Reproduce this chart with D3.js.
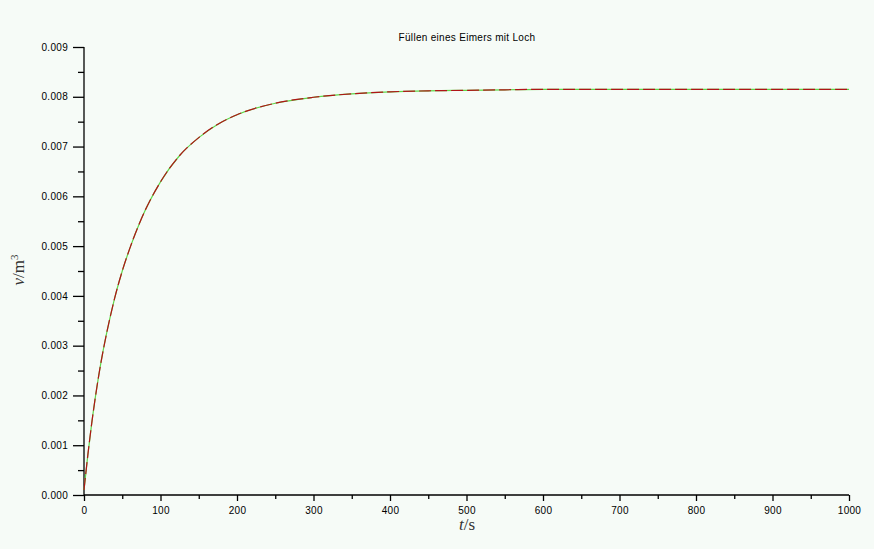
<!DOCTYPE html>
<html>
<head>
<meta charset="utf-8">
<script src="https://cdn.jsdelivr.net/npm/d3@7"></script>
<style>
  html, body { margin: 0; padding: 0; background: #f6fbf7; }
  svg { display: block; }
  text { font-family: "Liberation Sans", Arial, sans-serif; }
</style>
</head>
<body>
<svg id="chart" width="874" height="549"></svg>
<script>
// ---- data ----
const title = "Füllen eines Eimers mit Loch";
const timeS = [0, 5, 10, 15, 20, 25, 30, 40, 50, 60, 75, 100, 125, 150, 175, 200, 250, 300, 350, 400, 450, 500, 550, 600, 700, 800, 900, 1000];
const volumeNumeric = [0.0001, 0.00080, 0.00143, 0.00198, 0.00247, 0.00290, 0.00328, 0.00395, 0.00450, 0.00496, 0.00555, 0.00629, 0.00682, 0.00718, 0.00745, 0.00764, 0.00787, 0.00799, 0.00806, 0.00810, 0.00812, 0.00813, 0.00814, 0.00815, 0.00815, 0.00815, 0.00815, 0.00815];
const volumeAnalytic = [0.0001, 0.00080, 0.00143, 0.00198, 0.00247, 0.00290, 0.00328, 0.00395, 0.00450, 0.00496, 0.00555, 0.00629, 0.00682, 0.00718, 0.00745, 0.00764, 0.00787, 0.00799, 0.00806, 0.00810, 0.00812, 0.00813, 0.00814, 0.00815, 0.00815, 0.00815, 0.00815, 0.00815];
const xTicks = [0, 100, 200, 300, 400, 500, 600, 700, 800, 900, 1000];
const xMinorTicks = [50, 150, 250, 350, 450, 550, 650, 750, 850, 950];
const yTicks = [0, 0.001, 0.002, 0.003, 0.004, 0.005, 0.006, 0.007, 0.008, 0.009];
const yMinorTicks = [0.0005, 0.0015, 0.0025, 0.0035, 0.0045, 0.0055, 0.0065, 0.0075, 0.0085];

const svg = d3.select("#chart");
const mLeft = 84, mRight = 849, mTop = 47, mBottom = 495;

const x = d3.scaleLinear().domain([0, 1000]).range([mLeft, mRight]);
const y = d3.scaleLinear().domain([0, 0.009]).range([mBottom, mTop]);

// title
svg.append("text")
  .attr("x", 467).attr("y", 41)
  .attr("text-anchor", "middle")
  .style("font-size", "10px").style("letter-spacing", "0.3px")
  .attr("fill", "#000")
  .text(title);

// y axis
const gy = svg.append("g").attr("transform", `translate(${mLeft},0)`);
gy.call(d3.axisLeft(y).tickValues(yTicks).tickSize(11).tickPadding(5).tickFormat(d3.format(".3f")));
const gy2 = svg.append("g").attr("transform", `translate(${mLeft},0)`);
gy2.call(d3.axisLeft(y).tickValues(yMinorTicks).tickSize(6).tickFormat(""));

// x axis
const gx = svg.append("g").attr("transform", `translate(0,${mBottom})`);
gx.call(d3.axisBottom(x).tickValues(xTicks).tickSize(6).tickPadding(6).tickFormat(d3.format("d")));
const gx2 = svg.append("g").attr("transform", `translate(0,${mBottom})`);
gx2.call(d3.axisBottom(x).tickValues(xMinorTicks).tickSize(4).tickFormat(""));

svg.selectAll(".domain").attr("stroke", "#000").attr("stroke-width", 1.3);
svg.selectAll(".tick line").attr("stroke", "#000").attr("stroke-width", 1.3);
svg.selectAll(".tick text")
  .attr("fill", "#000")
  .style("font-family", "'Liberation Sans', Arial, sans-serif")
  .style("font-size", "10px").style("letter-spacing", "0.3px");
gy2.select(".domain").remove();
gx2.select(".domain").remove();
gy.select(".domain").attr("d", `M0,${mBottom}V${mTop}`);
gx.select(".domain").attr("d", `M${mLeft},0H${mRight}`);

// lines
const line = (vals) => d3.line()
  .x((d, i) => x(timeS[i]))
  .y(d => y(d))
  .curve(d3.curveMonotoneX)(vals);

svg.append("path")
  .attr("d", line(volumeNumeric))
  .attr("fill", "none")
  .attr("stroke", "#5fd84a")
  .attr("stroke-width", 1.2);

svg.append("path")
  .attr("d", line(volumeAnalytic))
  .attr("fill", "none")
  .attr("stroke", "#b01418")
  .attr("stroke-width", 1.2)
  .attr("stroke-dasharray", "12,4");

// axis titles
const xl = svg.append("text")
  .attr("x", 467).attr("y", 530)
  .attr("text-anchor", "middle")
  .style("font-family", "'Liberation Serif', 'DejaVu Serif', serif")
  .style("font-size", "17px")
  .attr("fill", "#333");
xl.append("tspan").style("font-style", "italic").text("t");
xl.append("tspan").text("/s");

const yl = svg.append("text")
  .attr("transform", "translate(24,270) rotate(-90)")
  .attr("text-anchor", "middle")
  .style("font-family", "'Liberation Serif', 'DejaVu Serif', serif")
  .style("font-size", "17px")
  .attr("fill", "#333");
yl.append("tspan").style("font-style", "italic").text("v");
yl.append("tspan").text("/m");
yl.append("tspan").attr("dy", -6).style("font-size", "11px").text("3");
</script>
</body>
</html>
